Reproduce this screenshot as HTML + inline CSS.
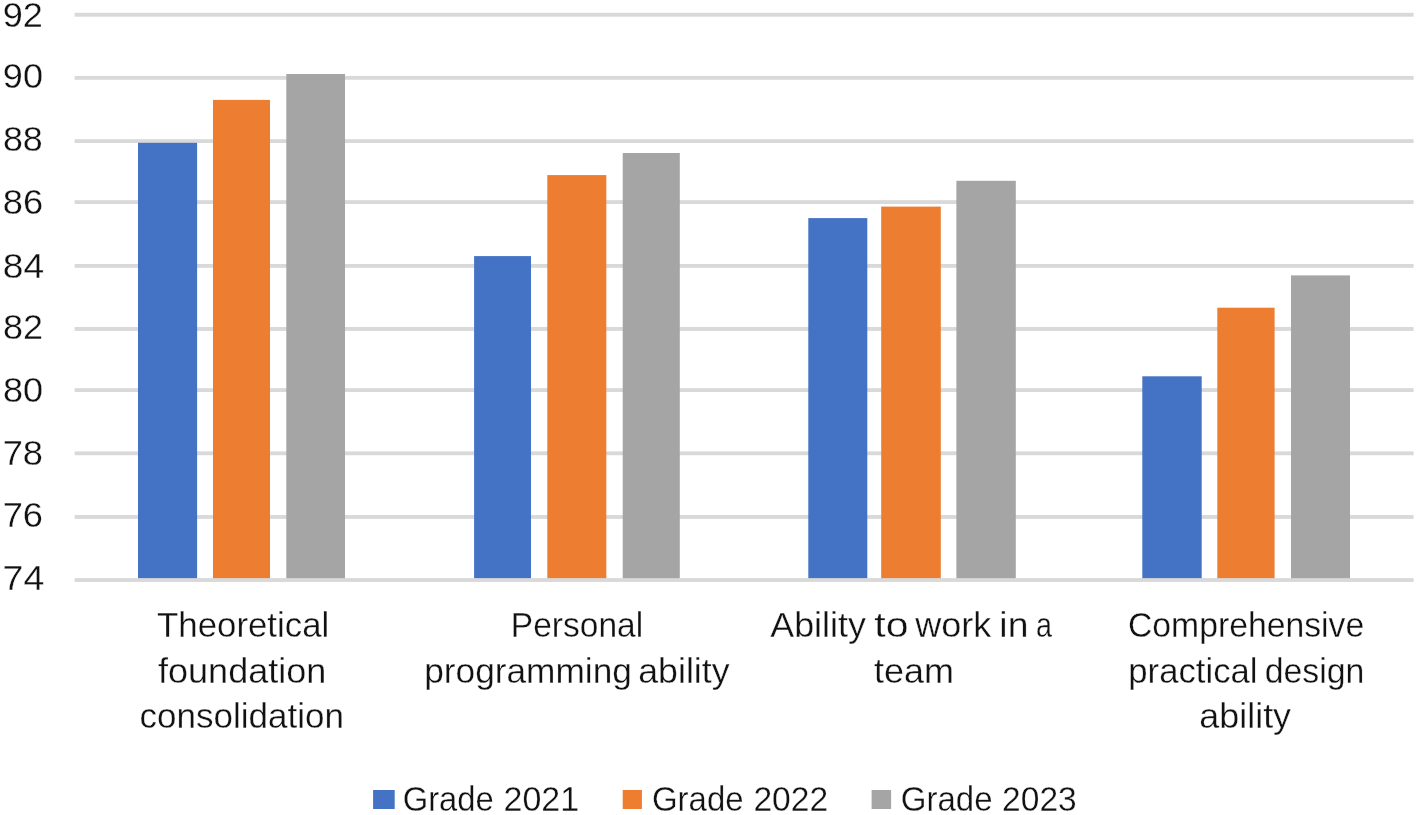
<!DOCTYPE html>
<html lang="en"><head><meta charset="utf-8"><title>Chart</title>
<style>
html,body{margin:0;padding:0;background:#fff;}
body{width:1416px;height:815px;overflow:hidden;}
svg{display:block;}
text{font-family:"Liberation Sans",sans-serif;font-size:34.5px;fill:#111;stroke:#fff;stroke-width:0.3;}
</style></head><body>
<svg width="1416" height="815" viewBox="0 0 1416 815">
<defs><filter id="soft" x="0" y="0" width="1416" height="815" filterUnits="userSpaceOnUse" color-interpolation-filters="sRGB"><feGaussianBlur stdDeviation="0.5"/></filter></defs>
<rect width="1416" height="815" fill="#fff"/>
<g fill="#d9d9d9">
<rect x="74.6" y="12.82" width="1339.0" height="3.85"/>
<rect x="74.6" y="75.92" width="1339.0" height="3.85"/>
<rect x="74.6" y="139.17" width="1339.0" height="3.85"/>
<rect x="74.6" y="200.17" width="1339.0" height="3.85"/>
<rect x="74.6" y="263.97" width="1339.0" height="3.85"/>
<rect x="74.6" y="327.02" width="1339.0" height="3.85"/>
<rect x="74.6" y="388.18" width="1339.0" height="3.85"/>
<rect x="74.6" y="451.38" width="1339.0" height="3.85"/>
<rect x="74.6" y="515.03" width="1339.0" height="3.85"/>
</g>
<rect x="138.0" y="142.8" width="59.1" height="437.25" fill="#4472c4"/>
<rect x="213.0" y="99.9" width="57.0" height="480.15" fill="#ed7d31"/>
<rect x="286.3" y="74.0" width="58.7" height="506.05" fill="#a5a5a5"/>
<rect x="474.1" y="256.1" width="56.9" height="323.95" fill="#4472c4"/>
<rect x="547.3" y="175.1" width="59.0" height="404.95" fill="#ed7d31"/>
<rect x="622.7" y="153.0" width="57.1" height="427.05" fill="#a5a5a5"/>
<rect x="808.3" y="218.1" width="59.0" height="361.95" fill="#4472c4"/>
<rect x="881.2" y="206.6" width="59.6" height="373.45" fill="#ed7d31"/>
<rect x="956.4" y="180.8" width="59.4" height="399.25" fill="#a5a5a5"/>
<rect x="1142.3" y="376.3" width="59.4" height="203.75" fill="#4472c4"/>
<rect x="1217.3" y="307.7" width="57.3" height="272.35" fill="#ed7d31"/>
<rect x="1291.0" y="275.4" width="59.0" height="304.65" fill="#a5a5a5"/>
<rect x="74.6" y="578.12" width="1339.0" height="3.85" fill="#d9d9d9"/>
<rect x="373.1" y="790" width="21.6" height="19" fill="#4472c4"/>
<rect x="622.7" y="790" width="19.2" height="19" fill="#ed7d31"/>
<rect x="871.6" y="790" width="19.5" height="19" fill="#a5a5a5"/>
<g filter="url(#soft)">
<text y="27"><tspan x="2.76" textLength="40.19" lengthAdjust="spacingAndGlyphs">92</tspan></text>
<text y="88"><tspan x="2.87" textLength="40.09" lengthAdjust="spacingAndGlyphs">90</tspan></text>
<text y="151"><tspan x="2.92" textLength="39.92" lengthAdjust="spacingAndGlyphs">88</tspan></text>
<text y="214"><tspan x="2.86" textLength="40.34" lengthAdjust="spacingAndGlyphs">86</tspan></text>
<text y="278"><tspan x="2.84" textLength="41.36" lengthAdjust="spacingAndGlyphs">84</tspan></text>
<text y="339"><tspan x="2.95" textLength="40.03" lengthAdjust="spacingAndGlyphs">82</tspan></text>
<text y="402"><tspan x="2.92" textLength="40.07" lengthAdjust="spacingAndGlyphs">80</tspan></text>
<text y="465"><tspan x="2.69" textLength="40.36" lengthAdjust="spacingAndGlyphs">78</tspan></text>
<text y="527"><tspan x="2.68" textLength="40.39" lengthAdjust="spacingAndGlyphs">76</tspan></text>
<text y="590"><tspan x="2.60" textLength="41.66" lengthAdjust="spacingAndGlyphs">74</tspan></text>
<text y="637"><tspan x="157.06" textLength="172.18" lengthAdjust="spacingAndGlyphs">Theoretical</tspan></text>
<text y="683"><tspan x="157.95" textLength="168.46" lengthAdjust="spacingAndGlyphs">foundation</tspan></text>
<text y="728"><tspan x="139.55" textLength="204.32" lengthAdjust="spacingAndGlyphs">consolidation</tspan></text>
<text y="637"><tspan x="510.84" textLength="132.38" lengthAdjust="spacingAndGlyphs">Personal</tspan></text>
<text y="683"><tspan x="424.20" textLength="207.69" lengthAdjust="spacingAndGlyphs">programming</tspan> <tspan x="638.27" textLength="91.28" lengthAdjust="spacingAndGlyphs">ability</tspan></text>
<text y="637"><tspan x="770.31" textLength="95.57" lengthAdjust="spacingAndGlyphs">Ability</tspan> <tspan x="874.26" textLength="34.26" lengthAdjust="spacingAndGlyphs">to</tspan> <tspan x="915.20" textLength="76.13" lengthAdjust="spacingAndGlyphs">work</tspan> <tspan x="999.35" textLength="29.06" lengthAdjust="spacingAndGlyphs">in</tspan> <tspan x="1035.99" textLength="15.99" lengthAdjust="spacingAndGlyphs">a</tspan></text>
<text y="683"><tspan x="873.98" textLength="79.91" lengthAdjust="spacingAndGlyphs">team</tspan></text>
<text y="637"><tspan x="1128.01" textLength="236.24" lengthAdjust="spacingAndGlyphs">Comprehensive</tspan></text>
<text y="683"><tspan x="1128.34" textLength="129.17" lengthAdjust="spacingAndGlyphs">practical</tspan> <tspan x="1264.76" textLength="99.67" lengthAdjust="spacingAndGlyphs">design</tspan></text>
<text y="728"><tspan x="1199.38" textLength="91.68" lengthAdjust="spacingAndGlyphs">ability</tspan></text>
<text y="811"><tspan x="402.72" textLength="91.08" lengthAdjust="spacingAndGlyphs">Grade</tspan> <tspan x="503.58" textLength="75.58" lengthAdjust="spacingAndGlyphs">2021</tspan></text>
<text y="811"><tspan x="651.97" textLength="91.58" lengthAdjust="spacingAndGlyphs">Grade</tspan> <tspan x="753.38" textLength="74.72" lengthAdjust="spacingAndGlyphs">2022</tspan></text>
<text y="811"><tspan x="900.85" textLength="91.73" lengthAdjust="spacingAndGlyphs">Grade</tspan> <tspan x="1002.10" textLength="74.61" lengthAdjust="spacingAndGlyphs">2023</tspan></text>
</g>
</svg>
</body></html>
